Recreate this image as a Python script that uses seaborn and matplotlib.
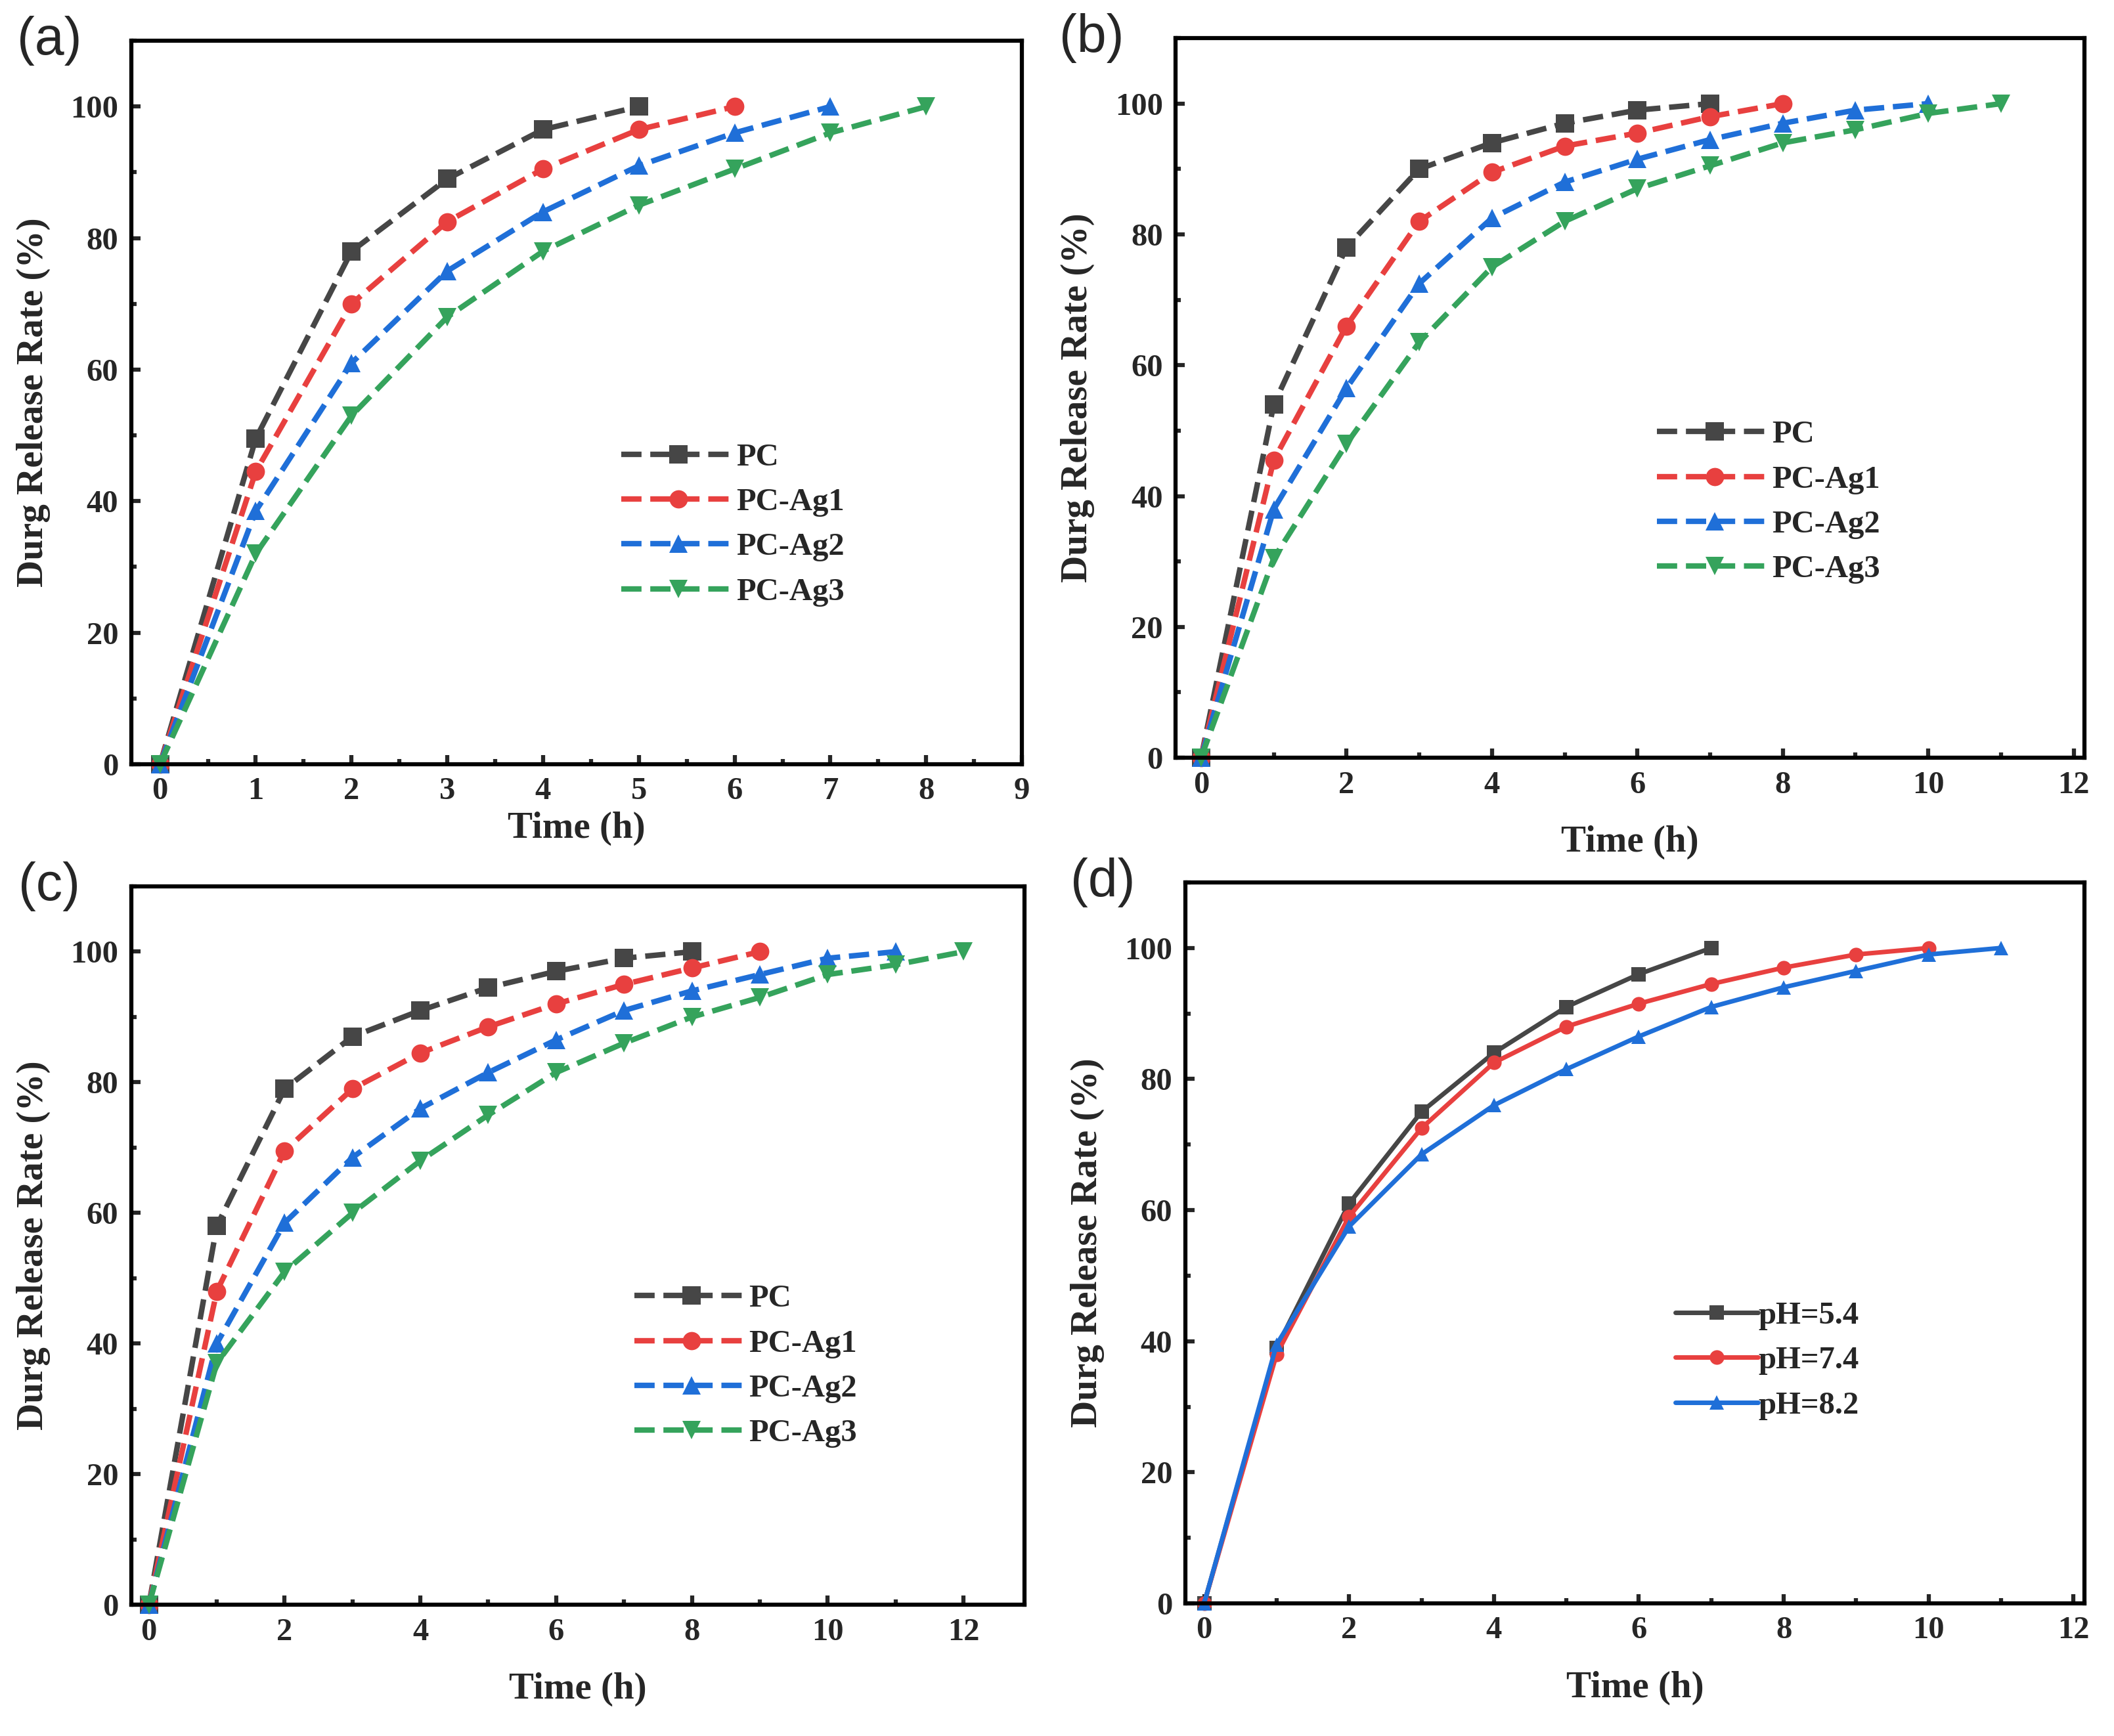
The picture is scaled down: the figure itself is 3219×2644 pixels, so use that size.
import numpy as np
import pandas as pd
import matplotlib
matplotlib.use('Agg')
import matplotlib.pyplot as plt
from matplotlib.ticker import MultipleLocator
import seaborn as sns

# 数据
names_ag = ['PC', 'PC-Ag1', 'PC-Ag2', 'PC-Ag3']
names_ph = ['pH=5.4', 'pH=7.4', 'pH=8.2']

# (a)
a_pc = [0, 49.5, 78, 89, 96.5, 100]
a_ag1 = [0, 44.5, 70, 82.5, 90.5, 96.5, 100]
a_ag2 = [0, 38.5, 61, 75, 84, 91, 96, 100]
a_ag3 = [0, 32, 53, 68, 78, 85, 90.5, 96, 100]

# (b)
b_pc = [0, 54, 78, 90, 94, 97, 99, 100]
b_ag1 = [0, 45.5, 66, 82, 89.5, 93.5, 95.5, 98, 100]
b_ag2 = [0, 38, 56.5, 72.5, 82.5, 88, 91.5, 94.5, 97, 99, 100]
b_ag3 = [0, 30.5, 48, 63.5, 75, 82, 87, 90.5, 94, 96, 98.5, 100]

# (c)
c_pc = [0, 58, 79, 87, 91, 94.5, 97, 99, 100]
c_ag1 = [0, 48, 69.5, 79, 84.5, 88.5, 92, 95, 97.5, 100]
c_ag2 = [0, 40, 58.5, 68.5, 76, 81.5, 86.5, 91, 94, 96.5, 99, 100]
c_ag3 = [0, 37, 51, 60, 68, 75, 81.5, 86, 90, 93, 96.5, 98, 100]

# (d)
d_ph54 = [0, 39, 61, 75, 84, 91, 96, 100]
d_ph74 = [0, 38, 59, 72.5, 82.5, 88, 91.5, 94.5, 97, 99, 100]
d_ph82 = [0, 39.5, 57.5, 68.5, 76, 81.5, 86.5, 91, 94, 96.5, 99, 100]

colors = ['#464646', '#e8403f', '#1f6fd8', '#35a35c']
markers = ['s', 'o', '^', 'v']

sns.set_style('white')
plt.rcParams['font.family'] = ['Liberation Serif', 'DejaVu Serif']
plt.rcParams['font.weight'] = 'bold'

fig = plt.figure(figsize=(32.19, 26.44), dpi=100)

# 坐标轴位置
pos = {
    'a': [0.0621, 0.5598, 0.4213, 0.4167],
    'b': [0.5561, 0.5635, 0.4300, 0.4145],
    'c': [0.0621, 0.0756, 0.4225, 0.4138],
    'd': [0.5607, 0.0764, 0.4253, 0.4153],
}


def style_axis(ax, xlim, xmajor, xminor, labelpad):
    ax.set_xlim(*xlim)
    ax.xaxis.set_major_locator(MultipleLocator(xmajor))
    ax.xaxis.set_minor_locator(MultipleLocator(xminor))
    ax.set_yticks(np.arange(0, 101, 20))
    ax.yaxis.set_minor_locator(MultipleLocator(10))
    ax.set_ylim(0, 110)
    for sp in ax.spines.values():
        sp.set_linewidth(4.5)
        sp.set_color('black')
    ax.tick_params(axis='both', which='major', direction='in', length=10, width=4.5,
                   labelsize=35, pad=14, bottom=True, left=True, top=False, right=False)
    ax.tick_params(axis='both', which='minor', direction='in', length=6, width=4.5,
                   bottom=True, left=True, top=False, right=False)
    for lab in ax.get_xticklabels() + ax.get_yticklabels():
        lab.set_fontweight('bold')
    ax.set_xlabel('Time (h)', fontsize=41, fontweight='bold', labelpad=labelpad)
    ax.set_ylabel('Durg Release Rate (%)', fontsize=41, fontweight='bold', labelpad=22)


def draw_ag(ax, series):
    for name, vals, c, m in zip(names_ag, series, colors, markers):
        df = pd.DataFrame({'t': np.arange(len(vals)), 'rate': vals})
        sns.lineplot(data=df, x='t', y='rate', ax=ax, color=c, marker=m,
                     markersize=20, markeredgewidth=0, linewidth=6,
                     linestyle='--', dashes=(2.5, 1.3), label=name, clip_on=False)


def add_legend(ax, anchor, handlelength):
    leg = ax.legend(loc='upper left', bbox_to_anchor=anchor, frameon=False,
                    prop={'family': 'Liberation Serif', 'weight': 'bold', 'size': 35},
                    handlelength=handlelength, handletextpad=0.0, labelspacing=0.5,
                    borderpad=0.2)
    return leg


# (a)
ax_a = fig.add_axes(pos['a'])
draw_ag(ax_a, [a_pc, a_ag1, a_ag2, a_ag3])
style_axis(ax_a, (-0.3, 9.0), 1, 0.5, 6)
add_legend(ax_a, (0.525, 0.475), 3.6)

# (b)
ax_b = fig.add_axes(pos['b'])
draw_ag(ax_b, [b_pc, b_ag1, b_ag2, b_ag3])
style_axis(ax_b, (-0.35, 12.15), 2, 1, 28)
add_legend(ax_b, (0.505, 0.50), 3.6)

# (c)
ax_c = fig.add_axes(pos['c'])
draw_ag(ax_c, [c_pc, c_ag1, c_ag2, c_ag3])
style_axis(ax_c, (-0.26, 12.9), 2, 1, 28)
add_legend(ax_c, (0.538, 0.477), 3.6)

# (d)
ax_d = fig.add_axes(pos['d'])
for name, vals, c, m in zip(names_ph, [d_ph54, d_ph74, d_ph82], colors, markers):
    df = pd.DataFrame({'t': np.arange(len(vals)), 'rate': vals})
    sns.lineplot(data=df, x='t', y='rate', ax=ax_d, color=c, marker=m,
                 markersize=16, markeredgewidth=0, linewidth=5, label=name,
                 clip_on=False)
style_axis(ax_d, (-0.26, 12.15), 2, 1, 28)
add_legend(ax_d, (0.52, 0.45), 2.6)

# 子图标签
for ax, lab in zip([ax_a, ax_b, ax_c, ax_d], ['(a)', '(b)', '(c)', '(d)']):
    ax.text(-0.092, 1.0, lab, transform=ax.transAxes, fontsize=58,
            family='Liberation Sans', fontweight='normal', ha='center', va='center')

fig.savefig('out.png', dpi=100, facecolor='white')
